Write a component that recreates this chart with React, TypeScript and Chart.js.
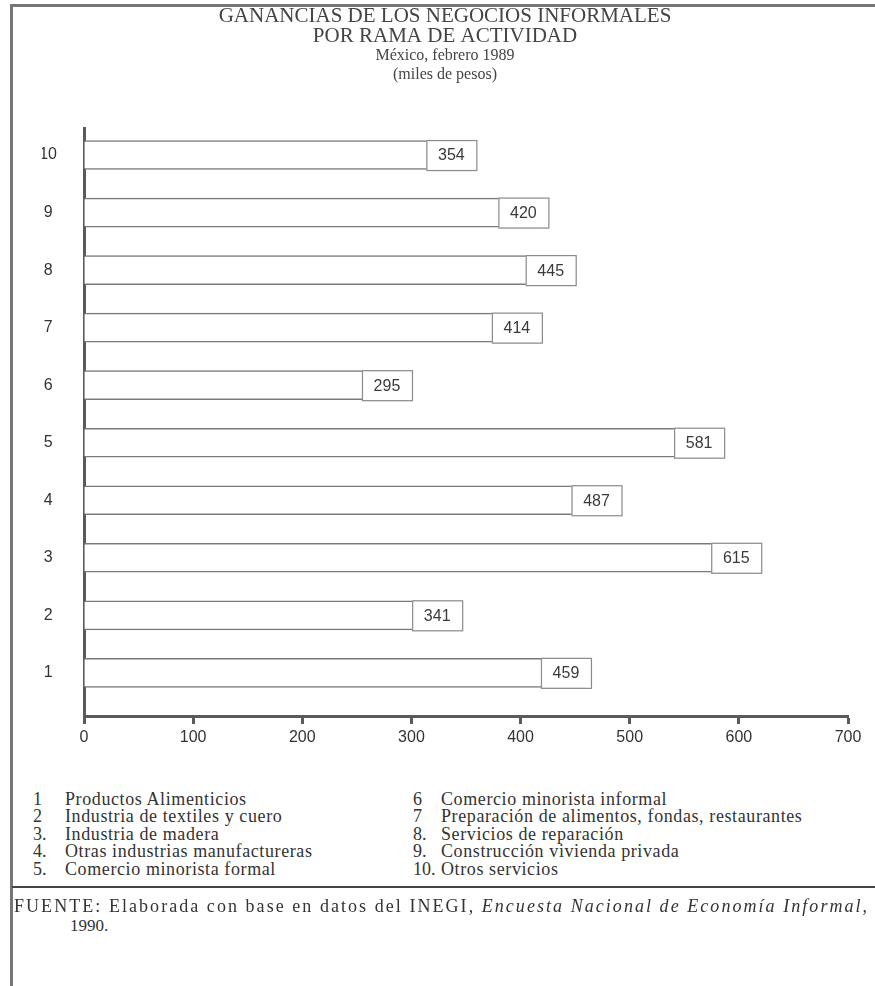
import React, { useEffect, useRef } from "react";
import { Chart, registerables } from "chart.js";

Chart.register(...registerables);

// ---- data ----
const categories: number[] = [1, 2, 3, 4, 5, 6, 7, 8, 9, 10];
const ganancias: number[] = [459, 341, 615, 487, 581, 295, 414, 445, 420, 354];
const xTicks: number[] = [0, 100, 200, 300, 400, 500, 600, 700];
const titleLines: string[] = ["GANANCIAS DE LOS NEGOCIOS INFORMALES", "POR RAMA DE ACTIVIDAD"];
const subtitleLines: string[] = ["México, febrero 1989", "(miles de pesos)"];
const legendLeft: [string, string][] = [
  ["1", "Productos Alimenticios"],
  ["2", "Industria de textiles y cuero"],
  ["3.", "Industria de madera"],
  ["4.", "Otras industrias manufactureras"],
  ["5.", "Comercio minorista formal"],
];
const legendRight: [string, string][] = [
  ["6", "Comercio minorista informal"],
  ["7", "Preparación de alimentos, fondas, restaurantes"],
  ["8.", "Servicios de reparación"],
  ["9.", "Construcción vivienda privada"],
  ["10.", "Otros servicios"],
];

const SERIF = "'Liberation Serif', 'Times New Roman', serif";
const SANS = "'Liberation Sans', Arial, sans-serif";

const valueBoxes = {
  id: "valueBoxes",
  afterDatasetsDraw(chart: any) {
    const { ctx } = chart;
    const meta = chart.getDatasetMeta(0);
    const data = chart.data.datasets[0].data as { x: number; y: number }[];
    ctx.save();
    meta.data.forEach((bar: any, i: number) => {
      const xEnd = bar.x;
      const h = 30;
      const left = xEnd - 44;
      const top = bar.y - h / 2;
      ctx.fillStyle = "#ffffff";
      ctx.fillRect(left, top, 50, h);
      ctx.strokeStyle = "#8a8a8a";
      ctx.lineWidth = 1.2;
      ctx.strokeRect(left + 0.5, top + 0.5, 50, h);
      ctx.fillStyle = "#3a3a3a";
      ctx.font = `16px ${SANS}`;
      ctx.textAlign = "center";
      ctx.textBaseline = "middle";
      ctx.fillText(String(data[i].x), left + 25, bar.y + 1);
    });
    ctx.restore();
  },
};

export default function App() {
  const ref = useRef<HTMLCanvasElement | null>(null);

  useEffect(() => {
    if (!ref.current) return;
    const chart = new Chart(ref.current, {
      type: "bar",
      data: {
        datasets: [
          {
            data: categories.map((c, i) => ({ x: ganancias[i], y: c })),
            backgroundColor: "#ffffff",
            borderColor: "#7a7a7a",
            borderWidth: 1.5,
            borderSkipped: "start",
            barThickness: 29,
          },
        ],
      },
      plugins: [valueBoxes],
      options: {
        indexAxis: "y",
        animation: false,
        responsive: false,
        maintainAspectRatio: false,
        layout: { padding: { top: 6, left: 42, right: 27, bottom: 0 } },
        plugins: {
          legend: { display: false },
          tooltip: { enabled: false },
          title: {
            display: true,
            text: titleLines,
            color: "#444",
            font: { family: SERIF, size: 21, weight: "normal", lineHeight: 20 / 21 },
            padding: { top: 0, bottom: 0 },
          },
          subtitle: {
            display: true,
            text: subtitleLines,
            color: "#444",
            font: { family: SERIF, size: 16, weight: "normal", lineHeight: 19.5 / 16 },
            padding: { top: 0, bottom: 43 },
          },
        },
        scales: {
          x: {
            type: "linear",
            min: 0,
            max: 700,
            afterBuildTicks: (s: any) => {
              s.ticks = xTicks.map((v) => ({ value: v }));
            },
            afterFit: (s: any) => {
              s.height = 44;
            },
            grid: {
              display: true,
              drawOnChartArea: false,
              drawTicks: true,
              tickLength: 8,
              tickWidth: 3,
              tickColor: "#5a5a5a",
            },
            border: { display: true, color: "#5a5a5a", width: 3 },
            ticks: {
              color: "#333",
              font: { family: SANS, size: 16 },
              padding: 4,
            },
          },
          y: {
            type: "linear",
            min: 0.25,
            max: 10.47,
            offset: false,
            afterBuildTicks: (s: any) => {
              s.ticks = categories.map((v) => ({ value: v }));
            },
            afterFit: (s: any) => {
              s.width = 42;
            },
            grid: { display: false, drawTicks: false, offset: false },
            border: { display: true, color: "#5a5a5a", width: 3 },
            ticks: {
              color: "#333",
              font: { family: SANS, size: 16 },
              padding: 27,
              crossAlign: "center",
              callback: (v: any) => String(v),
            },
          },
        },
      },
    });
    return () => chart.destroy();
  }, []);

  const legendRow = (num: string, text: string, numLeft: number, textLeft: number, idx: number) => (
    <div key={num} style={{ position: "absolute", top: 791 + idx * 17.4, left: 0, height: 17.4, lineHeight: "17.4px", whiteSpace: "nowrap" }}>
      <span style={{ position: "absolute", left: numLeft }}>{num}</span>
      <span style={{ position: "absolute", left: textLeft, letterSpacing: "0.6px" }}>{text}</span>
    </div>
  );

  return (
    <div style={{ position: "absolute", left: 0, top: 0, width: 875, height: 986, background: "#fff", overflow: "hidden", fontFamily: SERIF, color: "#333", fontSize: 18 }}>
      <canvas ref={ref} width={875} height={760} style={{ position: "absolute", left: 0, top: 0, width: 875, height: 760 }} />
      <div style={{ position: "absolute", left: 10, top: 4, width: 3, height: 982, background: "#777" }} />
      <div style={{ position: "absolute", left: 10, top: 4, width: 865, height: 3, background: "#777" }} />
      {legendLeft.map(([n, t], i) => legendRow(n, t, 33, 65, i))}
      {legendRight.map(([n, t], i) => legendRow(n, t, 413, 441, i))}
      <div style={{ position: "absolute", left: 12, top: 886, width: 863, height: 2, background: "#444" }} />
      <div style={{ position: "absolute", left: 14, top: 896, lineHeight: "20px", whiteSpace: "nowrap", fontSize: 18, letterSpacing: "2.05px" }}>
        FUENTE: Elaborada con base en datos del INEGI, <i>Encuesta Nacional de Economía Informal</i>,
      </div>
      <div style={{ position: "absolute", left: 70, top: 916, lineHeight: "20px", fontSize: 17 }}>1990.</div>
    </div>
  );
}
